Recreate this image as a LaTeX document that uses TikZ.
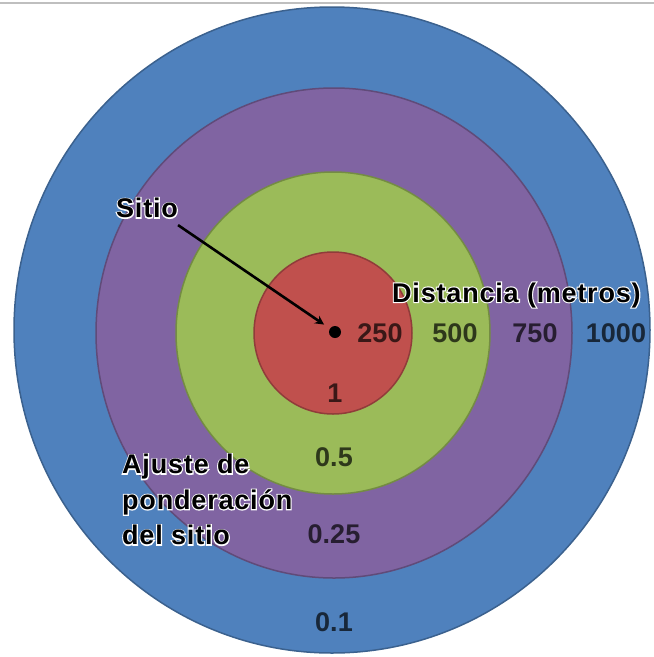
\documentclass[tikz,border=0pt]{standalone}
\usepackage{fontspec}
\setmainfont{Liberation Sans}
\usetikzlibrary{arrows.meta}

\definecolor{ringblue}{HTML}{4F81BD}
\definecolor{ringpurple}{HTML}{8064A2}
\definecolor{ringgreen}{HTML}{9BBB59}
\definecolor{ringred}{HTML}{C0504D}

% white rim behind the black labels
\newcommand\rimtext[1]{\rlap{\special{pdf:literal direct 1 1 1 RG 2.2 w 1 Tr}#1\special{pdf:literal direct 0 Tr}}#1}

\begin{document}
\begin{tikzpicture}[
  x=1pt,y=-1pt,
  font=\fontsize{27}{35.5}\selectfont\bfseries,
  ring/.style={line width=1.5pt},
  val/.style={inner sep=0pt,anchor=center},
  lbl/.style={inner sep=0pt,align=left,font=\fontsize{27}{35.5}\selectfont\bfseries\addfontfeature{LetterSpace=3}},
  ptr/.style={line width=2.6pt,draw=black,-{Stealth[length=9pt,width=9pt]}}
]
\useasboundingbox (0,0) rectangle (654,657);
\draw[black!25,line width=2pt] (0,3) -- (654,3);

% ================= rings =================
\fill[ringblue,draw=ringblue!75!black,ring]     (332,330) ellipse [x radius=318,y radius=323];
\fill[ringpurple,draw=ringpurple!75!black,ring] (334,333) ellipse [x radius=238,y radius=245];
\fill[ringgreen,draw=ringgreen!75!black,ring]   (333,333) ellipse [x radius=157,y radius=161];
\fill[ringred,draw=ringred!75!black,ring]       (333,333) ellipse [x radius=79,y radius=81];

% ================= site and pointer =================
\node[circle,fill=black,inner sep=0pt,minimum size=12pt] (site) at (335,332) {};
\node[lbl] (sitio) at (147,208) {\rimtext{Sitio}};
\draw[ptr,shorten >=7pt] ([yshift=-7pt]sitio.south east) -- (site);

% ================= distances =================
\node[lbl,anchor=base west] (dist) at (392,302) {\rimtext{Distancia (metros)}};
\node[val,text=ringred!30!black]    (d250)  at (380,333) {250};
\node[val,text=ringgreen!30!black]  (d500)  at (455,333) {500};
\node[val,text=ringpurple!30!black] (d750)  at (535,333) {750};
\node[val,text=ringblue!30!black]   (d1000) at (616,333) {1000};

% ================= weights =================
\node[val,text=ringred!30!black]    (w1)   at (335,393) {1};
\node[val,text=ringgreen!30!black]  (w05)  at (334,457) {0.5};
\node[val,text=ringpurple!30!black] (w025) at (334,534) {0.25};
\node[val,text=ringblue!30!black]   (w01)  at (334,622) {0.1};
\node[lbl,anchor=north west] (ajuste) at (122,454)
  {\rimtext{Ajuste de}\\\rimtext{ponderación}\\\rimtext{del sitio}};
\end{tikzpicture}
\end{document}
